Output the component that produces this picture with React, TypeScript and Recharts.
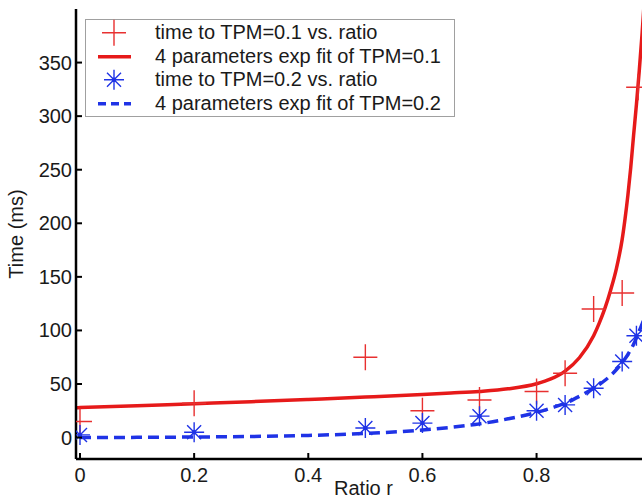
import React from 'react';
import { ComposedChart, Line, Scatter, XAxis, YAxis, Legend } from 'recharts';

const FONT = '"Liberation Sans", Arial, Helvetica, sans-serif';
const RED = '#e61a1a';
const RED_MARK = '#e83030';
const BLUE = '#1f33e6';

const xTicks = [0, 0.2, 0.4, 0.6, 0.8];
const yTicks = [0, 50, 100, 150, 200, 250, 300, 350];

const ratioTPM1 = [0, 0.2, 0.5, 0.6, 0.7, 0.8, 0.85, 0.9, 0.95, 0.978];
const timeTPM1 = [15, 32, 75, 25, 35, 43, 60, 120, 135, 327];

const ratioTPM2 = [0, 0.2, 0.5, 0.6, 0.7, 0.8, 0.85, 0.9, 0.95, 0.975];
const timeTPM2 = [2.5, 5, 9, 13.5, 20, 25, 30.5, 46, 71, 95];

const fitRatio1 = [-0.007, 0, 0.1, 0.2, 0.3, 0.4, 0.5, 0.6, 0.65, 0.7, 0.75, 0.8, 0.825, 0.85, 0.875, 0.9, 0.91, 0.92, 0.93, 0.94, 0.95, 0.955, 0.96, 0.965, 0.97, 0.975, 0.98, 0.985, 0.99];
const fitTPM1 = [27.9, 28, 29.7, 31.6, 33.5, 35.6, 37.8, 40.2, 41.6, 43.1, 45.5, 50.2, 54.7, 62.1, 74.5, 95, 107, 121, 138, 158, 185, 204, 226, 252, 282, 311, 342.7, 377.8, 417];

const fitRatio2 = [0, 0.1, 0.2, 0.3, 0.4, 0.5, 0.6, 0.65, 0.7, 0.75, 0.8, 0.825, 0.85, 0.875, 0.9, 0.91, 0.92, 0.93, 0.94, 0.95, 0.955, 0.96, 0.965, 0.97, 0.975, 0.98, 0.985, 0.99];
const fitTPM2 = [0, 0.2, 0.5, 1, 2, 3.8, 7, 9.5, 12.8, 17.5, 23.5, 27.5, 32, 38.5, 46, 49.5, 53.5, 58, 63.5, 70, 73.5, 77.5, 82, 87, 93, 99.5, 106, 113];

const legendLabels = [
  'time to TPM=0.1 vs. ratio',
  '4 parameters exp fit of TPM=0.1',
  'time to TPM=0.2 vs. ratio',
  '4 parameters exp fit of TPM=0.2',
];

const pointsTPM1 = ratioTPM1.map((x, i) => ({ x, y: timeTPM1[i] }));
const pointsTPM2 = ratioTPM2.map((x, i) => ({ x, y: timeTPM2[i] }));
const fit1 = fitRatio1.map((x, i) => ({ x, y: fitTPM1[i] }));
const fit2 = fitRatio2.map((x, i) => ({ x, y: fitTPM2[i] }));

const X_DOMAIN: [number, number] = [-0.007, 0.99];
const Y_DOMAIN: [number, number] = [-20, 400];

const PlusMarker = (props: any) => {
  const { cx, cy } = props;
  const r = 12;
  return (
    <path
      d={`M${cx - r},${cy}H${cx + r}M${cx},${cy - r - 1}V${cy + r + 1}`}
      stroke={RED_MARK}
      strokeWidth={1.4}
      fill="none"
    />
  );
};

const StarMarker = (props: any) => {
  const { cx, cy } = props;
  const r = 10;
  const d = 7;
  return (
    <g>
      <path
        d={`M${cx - r},${cy}H${cx + r}M${cx},${cy - r}V${cy + r}M${cx - d},${cy - d}L${cx + d},${cy + d}M${cx - d},${cy + d}L${cx + d},${cy - d}`}
        stroke={BLUE}
        strokeWidth={1.4}
        fill="none"
      />
      <circle cx={cx} cy={cy} r={2.2} fill={BLUE} />
    </g>
  );
};

const BottomTick = (props: any) => {
  const { x, y, payload } = props;
  return (
    <g>
      <line x1={x} y1={y} x2={x} y2={y - 6} stroke="#000" strokeWidth={2} />
      <text x={x} y={y + 23} textAnchor="middle" fontSize={20} fontFamily={FONT} fill="#1a1a1a">
        {String(payload.value)}
      </text>
    </g>
  );
};

const TopTick = (props: any) => {
  const { x, y } = props;
  return <line x1={x} y1={y} x2={x} y2={y + 6} stroke="#000" strokeWidth={2} />;
};

const LeftTick = (props: any) => {
  const { x, y, payload } = props;
  return (
    <g>
      <line x1={x} y1={y} x2={x + 6} y2={y} stroke="#000" strokeWidth={2} />
      <text x={x - 4} y={y + 7} textAnchor="end" fontSize={20} fontFamily={FONT} fill="#1a1a1a">
        {String(payload.value)}
      </text>
    </g>
  );
};

const RightTick = (props: any) => {
  const { x, y } = props;
  return <line x1={x} y1={y} x2={x - 6} y2={y} stroke="#000" strokeWidth={2} />;
};

const YLabel = (props: any) => {
  const vb = props.viewBox || { x: 0, y: 0, width: 0, height: 0 };
  const cx = vb.x + 23;
  const cy = vb.y + vb.height / 2;
  return (
    <text
      x={cx}
      y={cy}
      transform={`rotate(-90, ${cx}, ${cy})`}
      textAnchor="middle"
      fontSize={20}
      fontFamily={FONT}
      fill="#1a1a1a"
    >
      Time (ms)
    </text>
  );
};

const XLabel = (props: any) => {
  const vb = props.viewBox || { x: 0, y: 0, width: 0, height: 0 };
  return (
    <text
      x={vb.x + vb.width / 2 + 3}
      y={vb.y + 36}
      textAnchor="middle"
      fontSize={20}
      fontFamily={FONT}
      fill="#1a1a1a"
    >
      Ratio r
    </text>
  );
};

const legendIcon = (i: number) => {
  const cy = 11.75;
  if (i === 0) return <PlusMarker cx={28} cy={cy} />;
  if (i === 1) return <line x1={12} y1={cy} x2={45} y2={cy} stroke={RED} strokeWidth={3.5} />;
  if (i === 2) return <StarMarker cx={28} cy={cy} />;
  return <line x1={12} y1={cy} x2={45} y2={cy} stroke={BLUE} strokeWidth={3.5} strokeDasharray="8 5" />;
};

const LegendBox = () => (
  <div
    style={{
      width: 370,
      height: 98,
      boxSizing: 'border-box',
      border: '1px solid #a0a0a0',
      background: '#fff',
      fontFamily: FONT,
      fontSize: 20,
      color: '#1a1a1a',
      paddingTop: 1.25,
    }}
  >
    {legendLabels.map((label, i) => (
      <div key={i} style={{ height: 23.5, display: 'flex', alignItems: 'center', whiteSpace: 'nowrap' }}>
        <svg width={69} height={23.5} style={{ flex: 'none', overflow: 'visible' }}>
          {legendIcon(i)}
        </svg>
        <span style={{ lineHeight: '23.5px' }}>{label}</span>
      </div>
    ))}
  </div>
);

export default function App() {
  return (
    <div style={{ position: 'absolute', left: 0, top: 0, width: 642, height: 500, overflow: 'hidden', background: '#fff' }}>
      <ComposedChart width={646} height={500} margin={{ top: 9, right: 1, bottom: 0, left: 0 }}>
        <XAxis
          xAxisId="b"
          type="number"
          dataKey="x"
          domain={X_DOMAIN}
          allowDataOverflow
          ticks={xTicks}
          tickLine={false}
          tickSize={0}
          tickMargin={0}
          height={41}
          axisLine={{ stroke: '#000', strokeWidth: 2.5 }}
          tick={<BottomTick />}
          label={(p: any) => <XLabel {...p} />}
          interval={0}
        />
        <XAxis
          xAxisId="t"
          orientation="top"
          type="number"
          dataKey="x"
          domain={X_DOMAIN}
          allowDataOverflow
          ticks={xTicks}
          tickLine={false}
          tickSize={0}
          tickMargin={0}
          height={0}
          axisLine={{ stroke: '#000', strokeWidth: 2.5 }}
          tick={<TopTick />}
          interval={0}
        />
        <YAxis
          yAxisId="l"
          type="number"
          domain={Y_DOMAIN}
          allowDataOverflow
          ticks={yTicks}
          tickLine={false}
          tickSize={0}
          tickMargin={0}
          width={76}
          axisLine={{ stroke: '#000', strokeWidth: 2.5 }}
          tick={<LeftTick />}
          label={(p: any) => <YLabel {...p} />}
          interval={0}
        />
        <YAxis
          yAxisId="r"
          orientation="right"
          type="number"
          domain={Y_DOMAIN}
          allowDataOverflow
          ticks={yTicks}
          tickLine={false}
          tickSize={0}
          tickMargin={0}
          width={0}
          axisLine={{ stroke: '#000', strokeWidth: 2.5 }}
          tick={<RightTick />}
          interval={0}
        />
        <Scatter
          xAxisId="b"
          yAxisId="l"
          data={pointsTPM1}
          dataKey="y"
          shape={(p: any) => <PlusMarker cx={p.cx} cy={p.cy} />}
          isAnimationActive={false}
        />
        <Line
          xAxisId="b"
          yAxisId="l"
          data={fit1}
          dataKey="y"
          type="monotone"
          stroke={RED}
          strokeWidth={3.5}
          dot={false}
          activeDot={false}
          isAnimationActive={false}
        />
        <Scatter
          xAxisId="b"
          yAxisId="l"
          data={pointsTPM2}
          dataKey="y"
          shape={(p: any) => <StarMarker cx={p.cx} cy={p.cy} />}
          isAnimationActive={false}
        />
        <Line
          xAxisId="b"
          yAxisId="l"
          data={fit2}
          dataKey="y"
          type="monotone"
          stroke={BLUE}
          strokeWidth={3.5}
          strokeDasharray="11 6"
          dot={false}
          activeDot={false}
          isAnimationActive={false}
        />
        <Legend
          layout="vertical"
          align="center"
          verticalAlign="middle"
          wrapperStyle={{ left: 85, top: 19, width: 370, height: 98 }}
          content={() => <LegendBox />}
        />
      </ComposedChart>
    </div>
  );
}
